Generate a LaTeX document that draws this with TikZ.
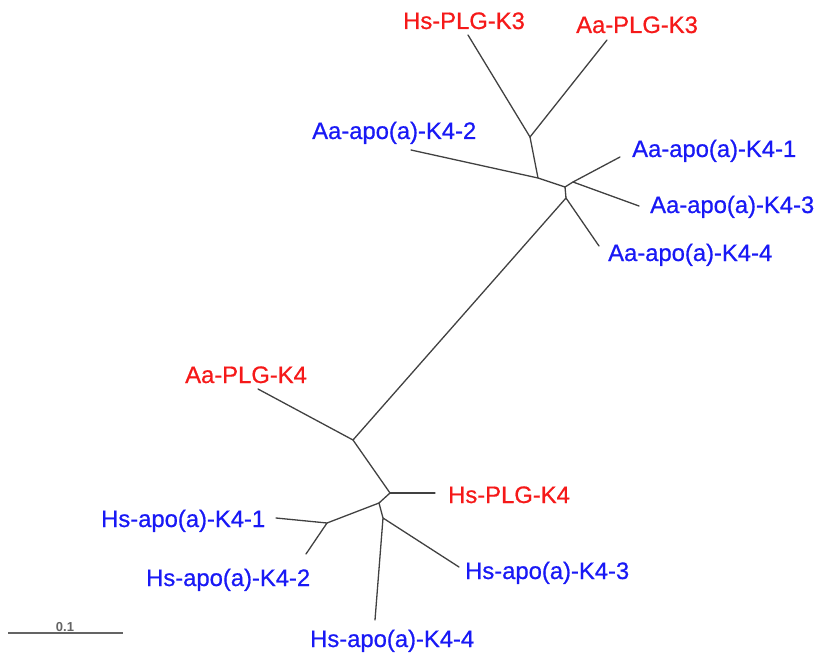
\documentclass[tikz,border=0pt]{standalone}
\usepackage{fontspec}
\setmainfont{Liberation Sans}
\newfontfamily\taxonfont[FakeBold=0.7]{Liberation Sans}
\definecolor{plgred}{RGB}{245,25,25}
\definecolor{apoblue}{RGB}{25,25,245}
\definecolor{branch}{RGB}{65,65,65}
\definecolor{barcol}{RGB}{100,100,100}
\begin{document}
\begin{tikzpicture}[x=1pt,y=-1pt,
  edge/.style={draw=branch,line width=1.3pt,line cap=round,line join=round},
  taxon/.style={anchor=base west,inner sep=0pt,font=\taxonfont\fontsize{23.8}{26}\selectfont},
  plg/.style={taxon,text=plgred},
  apo/.style={taxon,text=apoblue}]
\useasboundingbox (0,0) rectangle (819,658);

% internal nodes of the tree
\coordinate (nA) at (530,137);
\coordinate (nB) at (538,178);
\coordinate (nC) at (565,187);
\coordinate (nD) at (573,182);
\coordinate (nE) at (566,198);
\coordinate (nF) at (353,440);
\coordinate (nG) at (390,493);
\coordinate (nH) at (379,503);
\coordinate (nI) at (327,523);
\coordinate (nJ) at (383,518);

% branch tips
\coordinate (tHsK3) at (468,35);
\coordinate (tAaK3) at (607,40);
\coordinate (tAa2) at (411,150);
\coordinate (tAa1) at (620,157);
\coordinate (tAa3) at (639,206);
\coordinate (tAa4) at (599,246);
\coordinate (tAaK4) at (258,389);
\coordinate (tHsK4) at (435,493);
\coordinate (tHs1) at (276,518);
\coordinate (tHs2) at (306,554);
\coordinate (tHs3) at (459,567);
\coordinate (tHs4) at (375,620);

% branches
\draw[edge] (tHsK3) -- (nA) -- (tAaK3);
\draw[edge] (nA) -- (nB);
\draw[edge] (tAa2) -- (nB) -- (nC);
\draw[edge] (nC) -- (nD);
\draw[edge] (tAa1) -- (nD) -- (tAa3);
\draw[edge] (nC) -- (nE);
\draw[edge] (nE) -- (tAa4);
\draw[edge] (nE) -- (nF);
\draw[edge] (tAaK4) -- (nF) -- (nG);
\draw[edge] (nG) -- (tHsK4);
\draw[edge] (nG) -- (nH);
\draw[edge] (nH) -- (nI);
\draw[edge] (tHs1) -- (nI) -- (tHs2);
\draw[edge] (nH) -- (nJ);
\draw[edge] (tHs3) -- (nJ) -- (tHs4);

% taxon labels
\node[plg] (lHsK3) at (403,29) {Hs-PLG-K3};
\node[plg] (lAaK3) at (576,33) {Aa-PLG-K3};
\node[apo] (lAa2) at (312,139) {Aa-apo(a)-K4-2};
\node[apo] (lAa1) at (632,157) {Aa-apo(a)-K4-1};
\node[apo] (lAa3) at (650,213) {Aa-apo(a)-K4-3};
\node[apo] (lAa4) at (608,261) {Aa-apo(a)-K4-4};
\node[plg] (lAaK4) at (185,383) {Aa-PLG-K4};
\node[plg] (lHsK4) at (448,503) {Hs-PLG-K4};
\node[apo] (lHs1) at (101,527) {Hs-apo(a)-K4-1};
\node[apo] (lHs2) at (146,586) {Hs-apo(a)-K4-2};
\node[apo] (lHs3) at (465,579) {Hs-apo(a)-K4-3};
\node[apo] (lHs4) at (310,647) {Hs-apo(a)-K4-4};

% scale bar
\coordinate (sL) at (8,633);
\coordinate (sR) at (123,633);
\draw[draw=barcol,line width=2pt] (sL) -- (sR);
\node[anchor=base,inner sep=0pt,text=barcol,font=\fontsize{13}{15}\selectfont\bfseries] (sLabel) at (65,631) {0.1};
\end{tikzpicture}
\end{document}
